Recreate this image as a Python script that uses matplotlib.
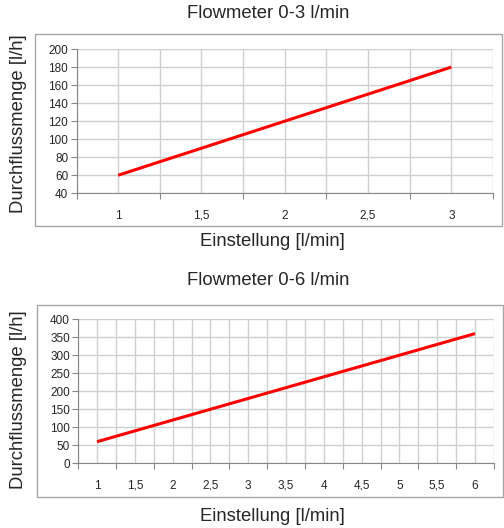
import matplotlib.pyplot as plt
import numpy as np
from matplotlib.patches import Rectangle

plt.rcParams['font.family'] = ['Liberation Sans', 'DejaVu Sans']
plt.rcParams['text.color'] = '#262626'

# Flowmeter 0-3 l/min
x1 = [1, 1.5, 2, 2.5, 3]
x1_labels = ['1', '1,5', '2', '2,5', '3']
y1 = [60, 90, 120, 150, 180]

# Flowmeter 0-6 l/min
x2 = [1, 1.5, 2, 2.5, 3, 3.5, 4, 4.5, 5, 5.5, 6]
x2_labels = ['1', '1,5', '2', '2,5', '3', '3,5', '4', '4,5', '5', '5,5', '6']
y2 = [60, 90, 120, 150, 180, 210, 240, 270, 300, 330, 360]

titles = ['Flowmeter 0-3 l/min', 'Flowmeter 0-6 l/min']
xlabel = 'Einstellung [l/min]'
ylabel = 'Durchflussmenge [l/h]'

fig = plt.figure(figsize=(5.04, 5.28), dpi=100)

grid_c = '#cfcfcf'
axis_c = '#878787'


def draw(ax, xs, labels, ys, yticks):
    xs = np.array(xs)
    half = 0.25
    bounds = np.arange(xs[0] - half, xs[-1] + half + 1e-9, 2 * half)
    ax.set_xlim(bounds[0], bounds[-1])
    ax.set_ylim(yticks[0], yticks[-1])
    ax.set_xticks(bounds)
    ax.set_xticklabels([])
    ax.set_xticks(xs, minor=True)
    ax.set_xticklabels(labels, minor=True)
    ax.set_yticks(yticks)
    ax.tick_params(axis='x', which='major', length=4, color=axis_c, direction='out')
    ax.tick_params(axis='x', which='minor', length=0, pad=12, labelsize=8.5,
                   labelcolor='#262626')
    ax.tick_params(axis='y', length=4, color=axis_c, direction='out', labelsize=8.5,
                   pad=2, labelcolor='#262626')
    ax.grid(True, which='both', axis='x', color=grid_c, lw=1)
    ax.grid(True, which='major', axis='y', color=grid_c, lw=1)
    ax.set_axisbelow(True)
    for s in ['top', 'right']:
        ax.spines[s].set_visible(False)
    for s in ['left', 'bottom']:
        ax.spines[s].set_color(axis_c)
    ax.plot(xs, ys, color='#ff0000', lw=2.2, solid_capstyle='butt', clip_on=False)


ax1 = fig.add_axes([0.152, 0.634, 0.826, 0.273])
draw(ax1, x1, x1_labels, y1, np.arange(40, 201, 20))
ax2 = fig.add_axes([0.155, 0.1225, 0.825, 0.273])
draw(ax2, x2, x2_labels, y2, np.arange(0, 401, 50))

for b in [[0.0694, 0.572, 0.927, 0.3636], [0.0734, 0.0587, 0.925, 0.3636]]:
    fig.patches.append(Rectangle((b[0], b[1]), b[2], b[3], transform=fig.transFigure,
                                 fill=False, edgecolor='#a6a6a6', lw=1))

fs = 13.3
fig.text(0.532, 0.9735, titles[0], ha='center', va='center', fontsize=fs)
fig.text(0.532, 0.468, titles[1], ha='center', va='center', fontsize=fs)
fig.text(0.54, 0.5417, xlabel, ha='center', va='center', fontsize=fs)
fig.text(0.54, 0.0227, xlabel, ha='center', va='center', fontsize=fs)
fig.text(0.036, 0.766, ylabel, ha='center', va='center', rotation=90, fontsize=fs)
fig.text(0.036, 0.2424, ylabel, ha='center', va='center', rotation=90, fontsize=fs)

fig.savefig('out.png', dpi=100)
